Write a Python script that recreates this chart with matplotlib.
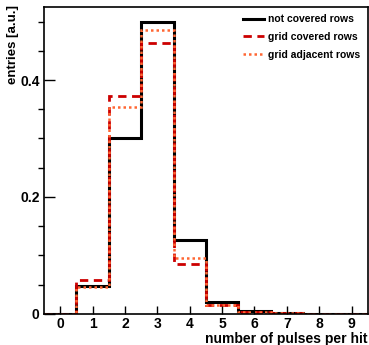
import matplotlib
matplotlib.use("Agg")
import matplotlib.pyplot as plt
import numpy as np
from matplotlib.ticker import MultipleLocator, FuncFormatter

plt.rcParams['font.family'] = ['Liberation Sans', 'DejaVu Sans']
plt.rcParams['font.weight'] = 'bold'

# bin centres 0..9, one entry per bin
pulses = [0, 1, 2, 3, 4, 5, 6, 7, 8, 9]
not_covered = [0.0, 0.048, 0.301, 0.499, 0.127, 0.021, 0.005, 0.001, 0.0005, 0.0003]
grid_covered = [0.0, 0.058, 0.372, 0.464, 0.086, 0.015, 0.004, 0.001, 0.0005, 0.0003]
grid_adjacent = [0.0, 0.046, 0.353, 0.485, 0.095, 0.016, 0.004, 0.001, 0.0005, 0.0003]

edges = np.arange(len(pulses) + 1) - 0.5

fig = plt.figure(figsize=(3.69, 3.45), dpi=100)
ax = fig.add_axes([0.119, 0.09, 0.878, 0.89])

ax.stairs(not_covered, edges, color='black', lw=2.2, label='not covered rows')
ax.stairs(grid_covered, edges, color='#cc0000', lw=2.0, ls=(0, (3, 2)), label='grid covered rows')
ax.stairs(grid_adjacent, edges, color='#ff6633', lw=1.8, ls=(0, (1, 1.2)), label='grid adjacent rows')

ax.set_xlim(-0.5, 9.5)
ax.set_ylim(0, 0.525)
ax.set_xticks(pulses)
ax.yaxis.set_major_locator(MultipleLocator(0.2))
ax.yaxis.set_minor_locator(MultipleLocator(0.05))
ax.yaxis.set_major_formatter(FuncFormatter(lambda v, p: '0' if abs(v) < 1e-9 else f'{v:.1f}'))
ax.tick_params(axis='both', direction='in', labelsize=10)
ax.tick_params(axis='y', which='major', length=8, width=1, pad=3)
ax.tick_params(axis='y', which='minor', length=4, width=1)
ax.tick_params(axis='x', which='major', length=6, width=1, pad=2)
for s in ax.spines.values():
    s.set_linewidth(1.2)

ax.set_xlabel('number of pulses per hit', fontsize=10, fontweight='bold', loc='right', labelpad=1)
ax.set_ylabel('entries [a.u.]', fontsize=9.5, fontweight='bold', loc='top')
ax.yaxis.set_label_coords(-0.078, 1.005)

leg = ax.legend(loc='upper right', frameon=False, fontsize=7.5, handlelength=2.0,
                handletextpad=0.4, labelspacing=0.75, borderaxespad=0.3)
for t in leg.get_texts():
    t.set_fontweight('bold')

fig.savefig('out.png', dpi=100)
